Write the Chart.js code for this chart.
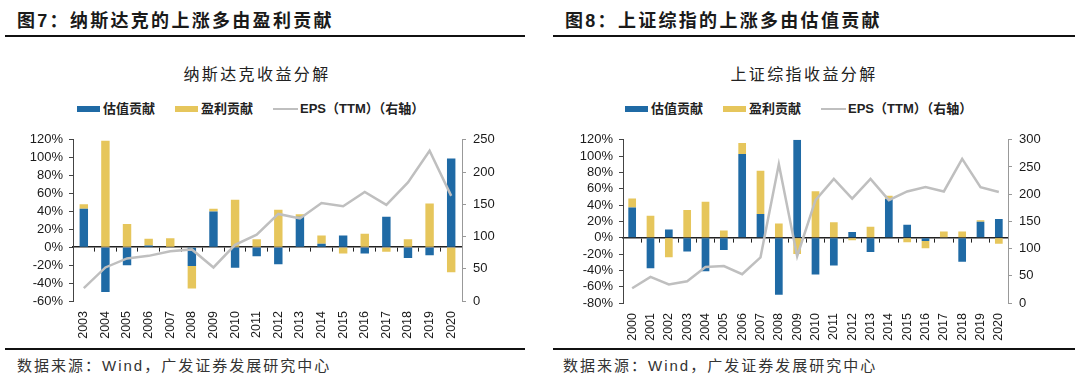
<!DOCTYPE html>
<html>
<head>
<meta charset="utf-8">
<script src="https://cdn.jsdelivr.net/npm/chart.js@4.4.1/dist/chart.umd.min.js"></script>
<style>
  body { margin: 0; background: #fff; width: 1080px; height: 387px; position: relative; overflow: hidden;
         font-family: 'Liberation Sans', Arial, 'Noto Sans CJK SC', sans-serif; color: #1a1a1a; }
  .abs { position: absolute; }
  .head { font-size: 18px; font-weight: bold; letter-spacing: 2.3px; line-height: 24px; top: 9px; white-space: nowrap; }
  .rule { height: 2px; background: #111; }
  .title { font-size: 16px; letter-spacing: 2.4px; line-height: 20px; top: 65px; width: 240px; text-align: center; color: #222; }
  .legend { top: 101px; display: flex; align-items: center; font-size: 13px; font-weight: bold; line-height: 16px; white-space: nowrap; color: #222; }
  .legend .item { display: flex; align-items: center; margin-right: 20px; }
  .legend .sw { width: 23px; height: 6px; margin-right: 3px; }
  .legend .ln { width: 25px; height: 2px; margin-right: 2px; background: #bfbfbf; }
  .src { font-size: 15px; letter-spacing: 2px; line-height: 20px; top: 356px; color: #333; white-space: nowrap; }
  canvas { position: absolute; }
</style>
</head>
<body>
<div class="abs head" style="left:17px">图7：纳斯达克的上涨多由盈利贡献</div>
<div class="abs rule" style="left:5px;top:35px;width:520px"></div>
<div class="abs title" style="left:137px">纳斯达克收益分解</div>
<div class="abs legend" style="left:77px">
  <div class="item"><span class="sw" style="background:#1f6aa5"></span>估值贡献</div>
  <div class="item"><span class="sw" style="background:#e6c65c"></span>盈利贡献</div>
  <div class="item"><span class="ln"></span>EPS（TTM）（右轴）</div>
</div>
<canvas id="nasdaq" width="500" height="222" style="left:10px;top:125px"></canvas>
<div class="abs rule" style="left:5px;top:348px;width:520px"></div>
<div class="abs src" style="left:17px">数据来源：Wind，广发证券发展研究中心</div>

<div class="abs head" style="left:565px">图8：上证综指的上涨多由估值贡献</div>
<div class="abs rule" style="left:553px;top:35px;width:522px"></div>
<div class="abs title" style="left:684px">上证综指收益分解</div>
<div class="abs legend" style="left:625px">
  <div class="item"><span class="sw" style="background:#1f6aa5"></span>估值贡献</div>
  <div class="item"><span class="sw" style="background:#e6c65c"></span>盈利贡献</div>
  <div class="item"><span class="ln"></span>EPS（TTM）（右轴）</div>
</div>
<canvas id="sse" width="500" height="222" style="left:560px;top:125px"></canvas>
<div class="abs rule" style="left:553px;top:348px;width:522px"></div>
<div class="abs src" style="left:563px">数据来源：Wind，广发证券发展研究中心</div>

<script>
// Nasdaq (fig 7)
const nasdaqYears = ['2003','2004','2005','2006','2007','2008','2009','2010','2011','2012',
                     '2013','2014','2015','2016','2017','2018','2019','2020'];
const nasdaqValuation = [43, -50, -20, 2, 0, -21, 40, -23, -10, -19, 34, 4, 13, -7, 34, -12, -9, 99];
const nasdaqEarnings  = [5, 119, 26, 7.5, 10, -25, 3, 53, 9, 42, 3, 9, -7, 15, -5, 9, 49, -28];
const nasdaqEps       = [20, 52, 66, 70, 77, 80, 52, 87, 103, 135, 128, 152, 147, 169, 149, 184, 233, 163];

// Shanghai Composite (fig 8)
const sseYears = ['2000','2001','2002','2003','2004','2005','2006','2007','2008','2009','2010',
                  '2011','2012','2013','2014','2015','2016','2017','2018','2019','2020'];
const sseValuation = [37, -37.5, 10, -17, -41, -15, 102.5, 29, -70, 120, -45, -34, 7, -17.5, 47.5, 16, -4, 0, -29.5, 19.5, 23];
const sseEarnings  = [11, 27, -24, 34, 44, 9, 13.5, 53, 17.5, -20, 57, 19, -3, 13.5, 4, -5.5, -9, 7.5, 7.5, 2, -7.5];
const sseEps       = [27, 48, 34, 40, 66, 68, 53, 84, 255, 86, 189, 228, 192, 228, 189, 205, 213, 205, 265, 213, 204];

const BLUE = '#1f6aa5';
const YELLOW = '#e6c65c';
const GREY = '#bfbfbf';
const AXIS_FONT = { family: "'Liberation Sans', Arial, sans-serif", size: 13 };

function makeChart(id, cfg) {
  const ctx = document.getElementById(id).getContext('2d');
  const fixW = w => (scale => { scale.width = w; });
  new Chart(ctx, {
    type: 'bar',
    data: {
      labels: cfg.labels,
      datasets: [
        { type: 'line', label: 'EPS（TTM）（右轴）', data: cfg.eps, yAxisID: 'y1', order: 0,
          borderColor: GREY, borderWidth: 2.5, pointRadius: 0, tension: 0, fill: false },
        { label: '估值贡献', data: cfg.valuation, backgroundColor: BLUE, order: 1,
          stack: 's', categoryPercentage: 1, barPercentage: cfg.barPct },
        { label: '盈利贡献', data: cfg.earnings, backgroundColor: YELLOW, order: 2,
          stack: 's', categoryPercentage: 1, barPercentage: cfg.barPct }
      ]
    },
    options: {
      responsive: false,
      animation: false,
      devicePixelRatio: 1,
      layout: { padding: { top: cfg.padTop, left: 0, right: 0, bottom: 0 } },
      plugins: { legend: { display: false }, title: { display: false }, tooltip: { enabled: false } },
      scales: {
        x: {
          axis: 'x', stacked: true, offset: true,
          position: { y: 0 },
          grid: { offset: true, drawOnChartArea: false, drawTicks: true, tickLength: 4, color: '#222', lineWidth: 1 },
          border: { color: '#222', width: 1.6 },
          ticks: { display: false }
        },
        x2: {
          axis: 'x', type: 'category', position: 'bottom', offset: true,
          grid: { display: false }, border: { display: false },
          ticks: { minRotation: 90, maxRotation: 90, autoSkip: false, padding: 2,
                   color: '#1a1a1a', font: { family: AXIS_FONT.family, size: 12.5 } },
          afterFit: scale => { scale.height = cfg.xHeight; }
        },
        y: {
          stacked: true, position: 'left',
          min: cfg.yMin, max: cfg.yMax,
          grid: { drawOnChartArea: false, drawTicks: true, tickLength: 4, color: '#444' },
          border: { color: '#444', width: 1 },
          ticks: { stepSize: 20, autoSkip: false, padding: 6, color: '#1a1a1a', font: AXIS_FONT,
                   callback: v => v + '%' },
          afterFit: fixW(cfg.leftW)
        },
        y1: {
          position: 'right', min: 0, max: cfg.y1Max,
          grid: { drawOnChartArea: false, drawTicks: true, tickLength: 4, color: '#999' },
          border: { color: '#999', width: 1 },
          ticks: { stepSize: 50, autoSkip: false, padding: 7, color: '#1a1a1a', font: AXIS_FONT },
          afterFit: fixW(cfg.rightW)
        }
      }
    }
  });
}

makeChart('nasdaq', {
  labels: nasdaqYears, valuation: nasdaqValuation, earnings: nasdaqEarnings, eps: nasdaqEps,
  yMin: -60, yMax: 120, y1Max: 250, barPct: 0.39,
  padTop: 12, xHeight: 46, leftW: 63, rightW: 48
});

makeChart('sse', {
  labels: sseYears, valuation: sseValuation, earnings: sseEarnings, eps: sseEps,
  yMin: -80, yMax: 120, y1Max: 300, barPct: 0.42,
  padTop: 11, xHeight: 44, leftW: 63, rightW: 52
});
</script>
</body>
</html>
